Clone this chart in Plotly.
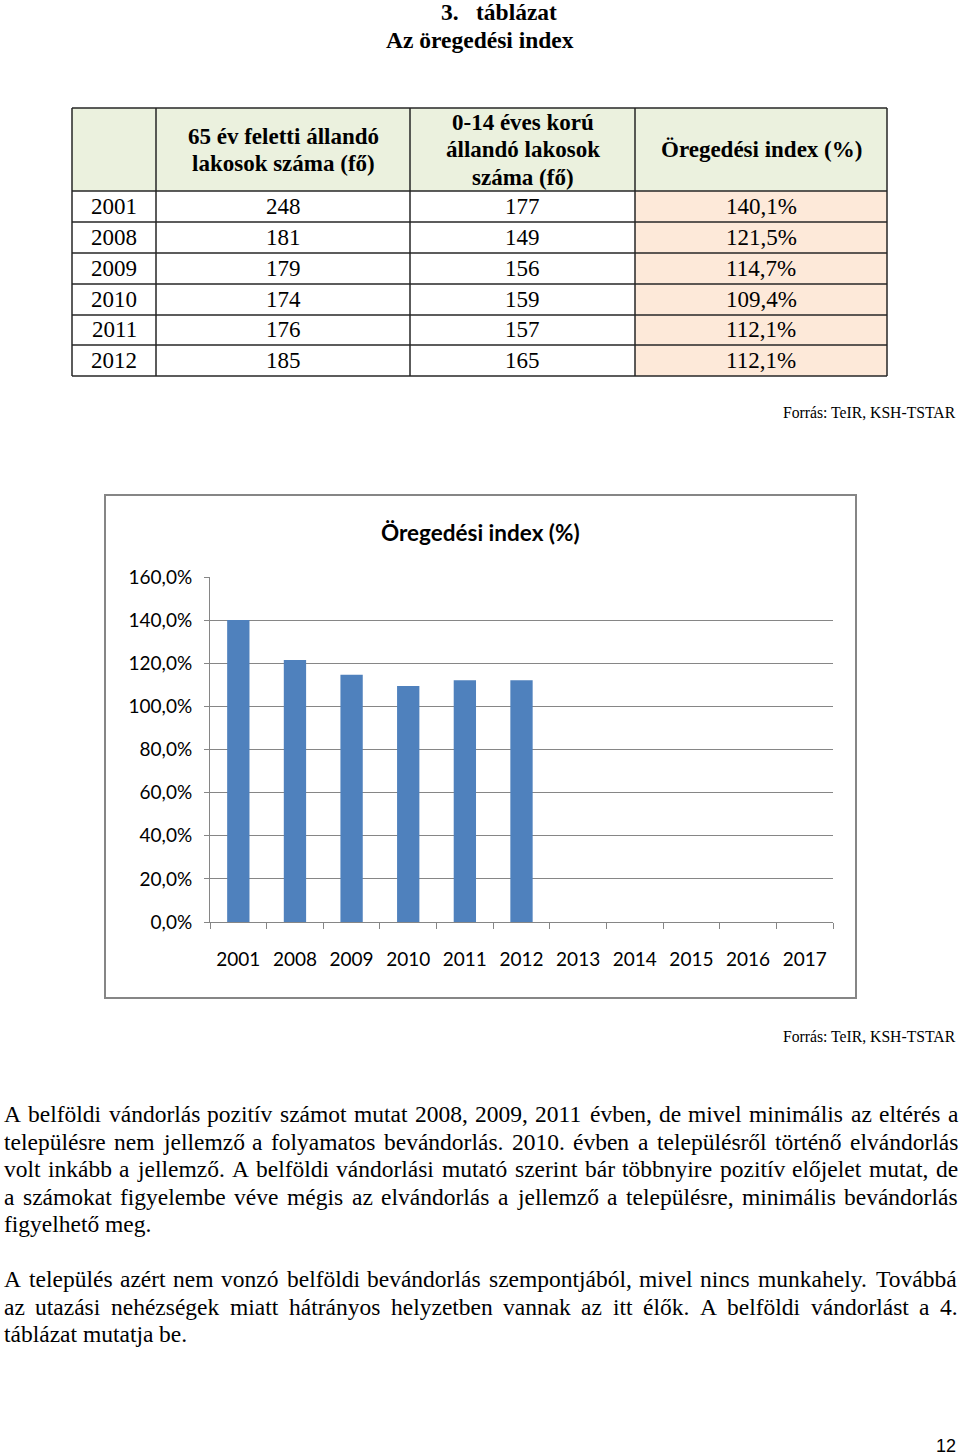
import unicodedata
import plotly.graph_objects as go

W, H = 960, 1455

# ---------------- data ----------------
table_years = ["2001", "2008", "2009", "2010", "2011", "2012"]
over65 = [248, 181, 179, 174, 176, 185]
under14 = [177, 149, 156, 159, 157, 165]
aging_index = [140.1, 121.5, 114.7, 109.4, 112.1, 112.1]
chart_categories = ["2001", "2008", "2009", "2010", "2011", "2012",
                    "2013", "2014", "2015", "2016", "2017"]
y_tick_values = [0, 20, 40, 60, 80, 100, 120, 140, 160]
header_col1 = ["65 év feletti állandó", "lakosok száma (fő)"]
header_col2 = ["0-14 éves korú", "állandó lakosok", "száma (fő)"]
header_col3 = ["Öregedési index (%)"]
chart_title = "Öregedési index (%)"
source_text = "Forrás: TeIR, KSH-TSTAR"
paragraph1 = [
    "A belföldi vándorlás pozitív számot mutat 2008, 2009, 2011 évben, de mivel minimális az eltérés a",
    "településre nem jellemző a folyamatos bevándorlás. 2010. évben a településről történő elvándorlás",
    "volt inkább a jellemző. A belföldi vándorlási mutató szerint bár többnyire pozitív előjelet mutat, de",
    "a számokat figyelembe véve mégis az elvándorlás a jellemző a településre, minimális bevándorlás",
    "figyelhető meg.",
]
paragraph2 = [
    "A település azért nem vonzó belföldi bevándorlás szempontjából, mivel nincs munkahely. Továbbá",
    "az utazási nehézségek miatt hátrányos helyzetben vannak az itt élők.  A belföldi vándorlást a 4.",
    "táblázat mutatja be.",
]


def pct_label(v):
    return f"{v:.1f}".replace(".", ",") + "%"


# ---------------- helpers ----------------
SERIF = "Liberation Serif"
SANS = "Lato"


def px(x):
    return x / W


def py(y):
    return 1 - y / H


annotations = []
shapes = []


def add_text(x, y, s, size, family=SERIF, weight="normal", xanchor="center", color="#000000"):
    annotations.append(dict(
        x=px(x), y=py(y), xref="paper", yref="paper", text=s, showarrow=False,
        xanchor=xanchor, yanchor="middle", borderpad=0,
        font=dict(family=family, size=size, color=color, weight=weight)))


TIMES = {' ': 250, '%': 833, '(': 333, ')': 333, ',': 250, '-': 333, '.': 250, ':': 278,
         'A': 722, 'B': 667, 'C': 667, 'D': 722, 'E': 611, 'F': 556, 'G': 722, 'H': 722,
         'I': 333, 'J': 389, 'K': 722, 'L': 611, 'M': 889, 'N': 722, 'O': 722, 'P': 556,
         'Q': 722, 'R': 667, 'S': 556, 'T': 611, 'U': 722, 'V': 722, 'W': 944, 'X': 722,
         'Y': 722, 'Z': 611, 'a': 444, 'b': 500, 'c': 444, 'd': 500, 'e': 444, 'f': 333,
         'g': 500, 'h': 500, 'i': 278, 'j': 278, 'k': 500, 'l': 278, 'm': 778, 'n': 500,
         'o': 500, 'p': 500, 'q': 500, 'r': 333, 's': 389, 't': 278, 'u': 500, 'v': 500,
         'w': 722, 'x': 500, 'y': 500, 'z': 444}
for d in "0123456789":
    TIMES[d] = 500


def word_width(word, size):
    total = 0
    for ch in word:
        base = unicodedata.normalize("NFD", ch)[0]
        total += TIMES.get(base, 500)
    return total / 1000.0 * size


def justified(lines, y0, step, size, left=3, right=957):
    for i, line in enumerate(lines):
        y = y0 + i * step
        words = line.split()
        widths = [word_width(w, size) for w in words]
        last = (i == len(lines) - 1)
        if last or len(words) < 2:
            gap = 0.25 * size
        else:
            gap = (right - left - sum(widths)) / (len(words) - 1)
        x = left
        for w, wd in zip(words, widths):
            add_text(x, y, w, size, xanchor="left")
            x += wd + gap


# ---------------- headings ----------------
add_text(440, 12, "3.", 23.5, weight="bold", xanchor="left")
add_text(475, 12, "táblázat", 23.5, weight="bold", xanchor="left")
add_text(480, 40, "Az öregedési index", 23.5, weight="bold")

# ---------------- table ----------------
col_edges = [72, 156, 410, 635, 887]
row_edges = [108, 191, 222, 253, 284, 315, 345, 376]
header_fill = "#ebf1de"
index_fill = "#fde9d9"
grid_col = "#262626"

shapes.append(dict(type="rect", xref="paper", yref="paper",
                   x0=px(col_edges[0]), x1=px(col_edges[-1]),
                   y0=py(row_edges[0]), y1=py(row_edges[1]),
                   fillcolor=header_fill, line=dict(width=0), layer="below"))
shapes.append(dict(type="rect", xref="paper", yref="paper",
                   x0=px(col_edges[3]), x1=px(col_edges[4]),
                   y0=py(row_edges[1]), y1=py(row_edges[-1]),
                   fillcolor=index_fill, line=dict(width=0), layer="below"))
for ry in row_edges:
    shapes.append(dict(type="line", xref="paper", yref="paper",
                       x0=px(col_edges[0]), x1=px(col_edges[-1]), y0=py(ry), y1=py(ry),
                       line=dict(color=grid_col, width=1.5)))
for cx in col_edges:
    shapes.append(dict(type="line", xref="paper", yref="paper",
                       x0=px(cx), x1=px(cx), y0=py(row_edges[0]), y1=py(row_edges[-1]),
                       line=dict(color=grid_col, width=1.5)))

centers = [(col_edges[i] + col_edges[i + 1]) / 2 for i in range(4)]
for j, s in enumerate(header_col1):
    add_text(centers[1], 136 + j * 27.5, s, 23, weight="bold")
for j, s in enumerate(header_col2):
    add_text(centers[2], 122 + j * 27.5, s, 23, weight="bold")
for j, s in enumerate(header_col3):
    add_text(centers[3], 150, s, 23, weight="bold")

for i, yr in enumerate(table_years):
    yc = (row_edges[i + 1] + row_edges[i + 2]) / 2
    add_text(centers[0], yc, yr, 23)
    add_text(centers[1], yc, str(over65[i]), 23)
    add_text(centers[2], yc, str(under14[i]), 23)
    add_text(centers[3], yc, pct_label(aging_index[i]), 23)

add_text(957, 412, source_text, 15.7, xanchor="right")

# ---------------- chart ----------------
shapes.append(dict(type="rect", xref="paper", yref="paper",
                   x0=px(105), x1=px(856), y0=py(495), y1=py(998),
                   line=dict(color="#868686", width=2), fillcolor="rgba(0,0,0,0)",
                   layer="below"))
add_text(480, 532, chart_title, 22.5, family=SANS, weight="bold")

bar_y = aging_index + [None] * (len(chart_categories) - len(aging_index))

fig = go.Figure()
fig.add_trace(go.Bar(x=chart_categories, y=bar_y, marker=dict(color="#4f81bd", line=dict(width=0)),
                     hoverinfo="x+y"))

axis_col = "#868686"
fig.update_layout(
    width=W, height=H,
    margin=dict(l=0, r=0, t=0, b=0, pad=0, autoexpand=False),
    paper_bgcolor="white", plot_bgcolor="rgba(0,0,0,0)",
    showlegend=False,
    separators=",.",
    bargap=0.606,
    xaxis=dict(domain=[px(210), px(833)], type="category", automargin=False,
               categoryorder="array", categoryarray=chart_categories,
               range=[-0.5, len(chart_categories) - 0.5],
               showline=True, linecolor=axis_col, linewidth=1,
               ticks="outside", tickson="boundaries", ticklen=6, tickcolor=axis_col,
               showgrid=False, ticklabelstandoff=20,
               tickfont=dict(family=SANS, size=19, color="#000000"), fixedrange=True),
    yaxis=dict(domain=[py(922), py(577)], range=[0, 160], automargin=False,
               tickmode="array", tickvals=y_tick_values,
               ticktext=[pct_label(v) for v in y_tick_values],
               showgrid=True, gridcolor=axis_col, gridwidth=1,
               showline=True, linecolor=axis_col, linewidth=1, zeroline=False,
               ticks="outside", ticklen=5, tickcolor=axis_col, ticklabelstandoff=8,
               tickfont=dict(family=SANS, size=19, color="#000000"), fixedrange=True),
)

add_text(957, 1036, source_text, 15.7, xanchor="right")

# ---------------- body text ----------------
justified(paragraph1, 1114, 27.5, 23.5)
justified(paragraph2, 1279, 27.5, 23.5)

add_text(957, 1446, "12", 18, family="Liberation Sans", xanchor="right")

fig.update_layout(annotations=annotations, shapes=shapes)
fig.write_html("out.html")
